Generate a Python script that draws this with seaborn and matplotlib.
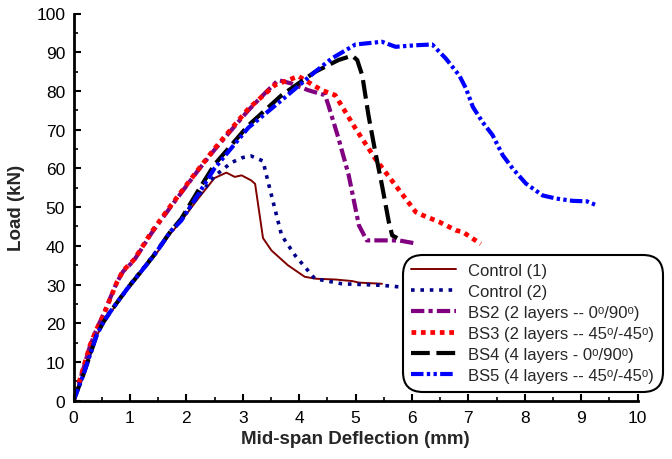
import matplotlib
matplotlib.use("Agg")
import matplotlib.pyplot as plt
import seaborn as sns
import pandas as pd

# ---------------- data ----------------
control1_x = [0, 0.17, 0.29, 0.41, 0.53, 0.65, 0.82, 1.0, 1.24, 1.47, 1.71, 1.9, 2.2, 2.5, 2.71, 2.86, 2.98, 3.15, 3.22, 3.36, 3.51, 3.8, 4.1, 4.3, 4.64, 4.94, 5.06, 5.47]
control1_y = [0, 6.3, 11.5, 16.7, 20, 22.6, 26, 29.4, 33.8, 38, 43, 46.2, 52, 57.5, 58.9, 57.8, 58.2, 56.9, 56, 42, 38.8, 35, 32, 31.5, 31.3, 30.9, 30.5, 30.2]

control2_x = [0, 0.17, 0.29, 0.41, 0.53, 0.65, 0.82, 1.0, 1.24, 1.47, 1.71, 1.9, 2.2, 2.5, 2.8, 3.0, 3.15, 3.36, 3.45, 3.57, 3.69, 3.93, 4.28, 4.76, 5.47, 5.77, 6.2, 6.6]
control2_y = [0, 6.7, 12, 17, 20.5, 23, 26.4, 30, 34.3, 38.6, 43.6, 46.7, 52.6, 58, 61.5, 62.8, 63.2, 61.9, 56.5, 49.6, 42.7, 37.5, 31.5, 30.2, 29.8, 29.4, 29.2, 29]

bs2_x = [0, 0.17, 0.29, 0.41, 0.53, 0.65, 0.77, 0.88, 1.06, 1.18, 1.38, 1.73, 2.2, 2.5, 3.1, 3.4, 3.63, 3.87, 4.16, 4.46, 4.52, 4.7, 4.88, 5.06, 5.2, 5.47, 5.77, 6.07]
bs2_y = [0, 8, 14, 18.5, 22.3, 26.5, 30.6, 33.4, 36, 38.6, 43.2, 50.2, 59.3, 64.8, 75, 79.5, 82.8, 81.9, 80.2, 78.9, 76.3, 67.7, 58.2, 45.3, 41.4, 41.4, 41.4, 40.6]

bs3_x = [0, 0.17, 0.29, 0.41, 0.53, 0.65, 0.77, 0.88, 1.06, 1.18, 1.38, 1.73, 2.2, 2.5, 3.1, 3.57, 3.99, 4.16, 4.4, 4.64, 5.0, 5.35, 5.71, 6.07, 6.19, 6.48, 6.78, 6.9, 7.22]
bs3_y = [0, 8.2, 14.2, 18.5, 22, 26.3, 30.6, 33.6, 36.2, 38.8, 43.5, 50.5, 59.5, 65.1, 75.4, 81.5, 83.8, 82.3, 80.2, 78.9, 70.3, 62.5, 55.6, 48.7, 47.9, 46.2, 44, 43.6, 40.5]

bs4_x = [0, 0.17, 0.29, 0.41, 0.53, 0.65, 0.82, 1.0, 1.24, 1.47, 1.71, 1.91, 2.2, 2.5, 3.1, 3.69, 4.28, 4.7, 4.94, 5.03, 5.12, 5.23, 5.35, 5.47, 5.59, 5.65, 5.74]
bs4_y = [0, 6.5, 11.7, 16.9, 20.3, 22.9, 26.3, 29.8, 34.1, 38.4, 43.5, 47, 54, 61, 71.1, 78.9, 84.9, 88, 89.1, 88, 84, 73.7, 64.3, 55.6, 46.2, 42.7, 42]

bs5_x = [0, 0.17, 0.29, 0.41, 0.53, 0.65, 0.82, 1.0, 1.24, 1.47, 1.71, 1.91, 2.2, 2.5, 3.1, 3.69, 4.28, 4.58, 5.0, 5.47, 5.71, 6.07, 6.36, 6.6, 6.84, 6.96, 7.08, 7.25, 7.43, 7.61, 7.79, 8.02, 8.32, 8.56, 8.86, 9.1, 9.27]
bs5_y = [0, 6.5, 11.7, 16.9, 20.3, 22.9, 26.3, 29.8, 34.1, 38.4, 43.5, 46.5, 53, 60, 70.5, 77.6, 84.9, 88.4, 92, 92.7, 91.4, 91.8, 92, 88.4, 84, 80.6, 75.9, 72, 68.6, 63.4, 59.9, 56.1, 53, 52.2, 51.6, 51.5, 50.5]

labels = [
    "Control (1)",
    "Control (2)",
    "BS2 (2 layers -- 0\u1d52/90\u1d52)",
    "BS3 (2 layers -- 45\u1d52/-45\u1d52)",
    "BS4 (4 layers - 0\u1d52/90\u1d52)",
    "BS5 (4 layers -- 45\u1d52/-45\u1d52)",
]

x_ticks = [0, 1, 2, 3, 4, 5, 6, 7, 8, 9, 10]
y_ticks = [0, 10, 20, 30, 40, 50, 60, 70, 80, 90, 100]

# ---------------- style ----------------
sns.set_theme(style="ticks")
plt.rcParams["font.family"] = ["Liberation Sans", "DejaVu Sans"]

fig = plt.figure(figsize=(6.72, 4.6), dpi=100)
ax = fig.add_axes([73.5 / 672, 1 - 401.7 / 460, (637.5 - 73.5) / 672, (401.7 - 14.5) / 460])

series = [
    (control1_x, control1_y, "#800000", "-", 1.4),
    (control2_x, control2_y, "#00008B", (0, (1, 1.6)), 2.6),
    (bs2_x, bs2_y, "#800080", (0, (3.2, 1, 1, 1)), 3.0),
    (bs3_x, bs3_y, "#FF0000", (0, (1, 1)), 3.4),
    (bs4_x, bs4_y, "#000000", (0, (4.5, 1.6)), 3.0),
    (bs5_x, bs5_y, "#0000FF", (0, (3, 0.8, 0.8, 0.8, 0.8, 0.8)), 3.0),
]

for (xs, ys, col, ls, lw), lab in zip(series, labels):
    df = pd.DataFrame({"x": xs, "y": ys})
    sns.lineplot(data=df, x="x", y="y", ax=ax, color=col, linestyle=ls,
                 linewidth=lw, sort=False, estimator=None, label=lab)

ax.set_xlim(0, 10)
ax.set_ylim(0, 100)
ax.set_xticks(x_ticks)
ax.set_yticks(y_ticks)
ax.set_xticks([v + 0.5 for v in x_ticks[:-1]], minor=True)
ax.set_yticks([v + 5 for v in y_ticks[:-1]], minor=True)

for s in ["top", "right"]:
    ax.spines[s].set_visible(False)
for s in ["left", "bottom"]:
    ax.spines[s].set_linewidth(2)
    ax.spines[s].set_color("black")

ax.tick_params(which="major", direction="in", length=5, width=1.5, labelsize=12.5,
               colors="black")
ax.tick_params(axis="x", which="major", pad=7)
ax.tick_params(axis="y", which="major", pad=6)
ax.tick_params(which="minor", direction="in", length=3, width=1.2, colors="black")

ax.set_xlabel("Mid-span Deflection (mm)", fontsize=13.5, fontweight="bold", labelpad=3)
ax.set_ylabel("Load (kN)", fontsize=13.5, fontweight="bold", labelpad=8)

leg = ax.legend(loc="lower right", bbox_to_anchor=(660 / 672, 1 - 390 / 460),
                bbox_transform=fig.transFigure, fontsize=12, frameon=True,
                fancybox=True, handlelength=2.7, labelspacing=0.36,
                borderpad=0.35, handletextpad=0.7, borderaxespad=0)
frame = leg.get_frame()
frame.set_edgecolor("black")
frame.set_linewidth(1.5)
frame.set_facecolor("white")
frame.set_alpha(1)
frame.set_boxstyle("round", pad=0.15, rounding_size=1.2)

fig.savefig("out.png", dpi=100)
